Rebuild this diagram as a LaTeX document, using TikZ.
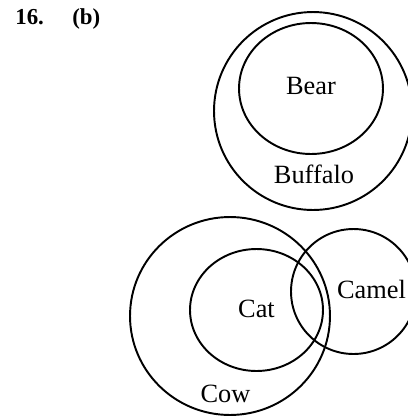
\documentclass[tikz,border=0pt]{standalone}
\usepackage{fontspec}
\setmainfont{Liberation Serif}
\usetikzlibrary{shapes.geometric}

\begin{document}
\begin{tikzpicture}[x=0.02cm, y=-0.02cm]
    \useasboundingbox (0, 0) rectangle (408, 417);

    \node (qno) at (15, 24) [anchor=base west, font=\fontsize{13}{15}\selectfont\bfseries, inner sep=0pt] {16.};
    \node (part) at (72, 24) [anchor=base west, font=\fontsize{13}{15}\selectfont\bfseries, inner sep=0pt] {(b)};

    % top group
    \node (buffalo) at (313, 111) [draw, ellipse, line width=1.1pt, minimum width=3.96cm, minimum height=3.96cm] {};
    \node (bear) at (311, 88.5) [draw, ellipse, line width=1.1pt, minimum width=2.88cm, minimum height=2.62cm] {};
    \node (bear_text) at (311, 94) [anchor=base, font=\fontsize{15}{18}\selectfont, inner sep=0pt] {Bear};
    \node (buffalo_text) at (314, 183) [anchor=base, font=\fontsize{15}{18}\selectfont, inner sep=0pt] {Buffalo};

    % bottom group
    \node (cow) at (230, 316) [draw, ellipse, line width=1.1pt, minimum width=4cm, minimum height=3.96cm] {};
    \node (cat) at (256.5, 310) [draw, ellipse, line width=1.1pt, minimum width=2.66cm, minimum height=2.44cm] {};
    \node (camel) at (353.5, 291.5) [draw, ellipse, line width=1.1pt, minimum width=2.5cm, minimum height=2.5cm] {};
    \node (cat_text) at (256.5, 317) [anchor=base, font=\fontsize{15}{18}\selectfont, inner sep=0pt] {Cat};
    \node (camel_text) at (371.5, 298) [anchor=base, font=\fontsize{15}{18}\selectfont, inner sep=0pt] {Camel};
    \node (cow_text) at (225.5, 402) [anchor=base, font=\fontsize{15}{18}\selectfont, inner sep=0pt] {Cow};
\end{tikzpicture}
\end{document}
